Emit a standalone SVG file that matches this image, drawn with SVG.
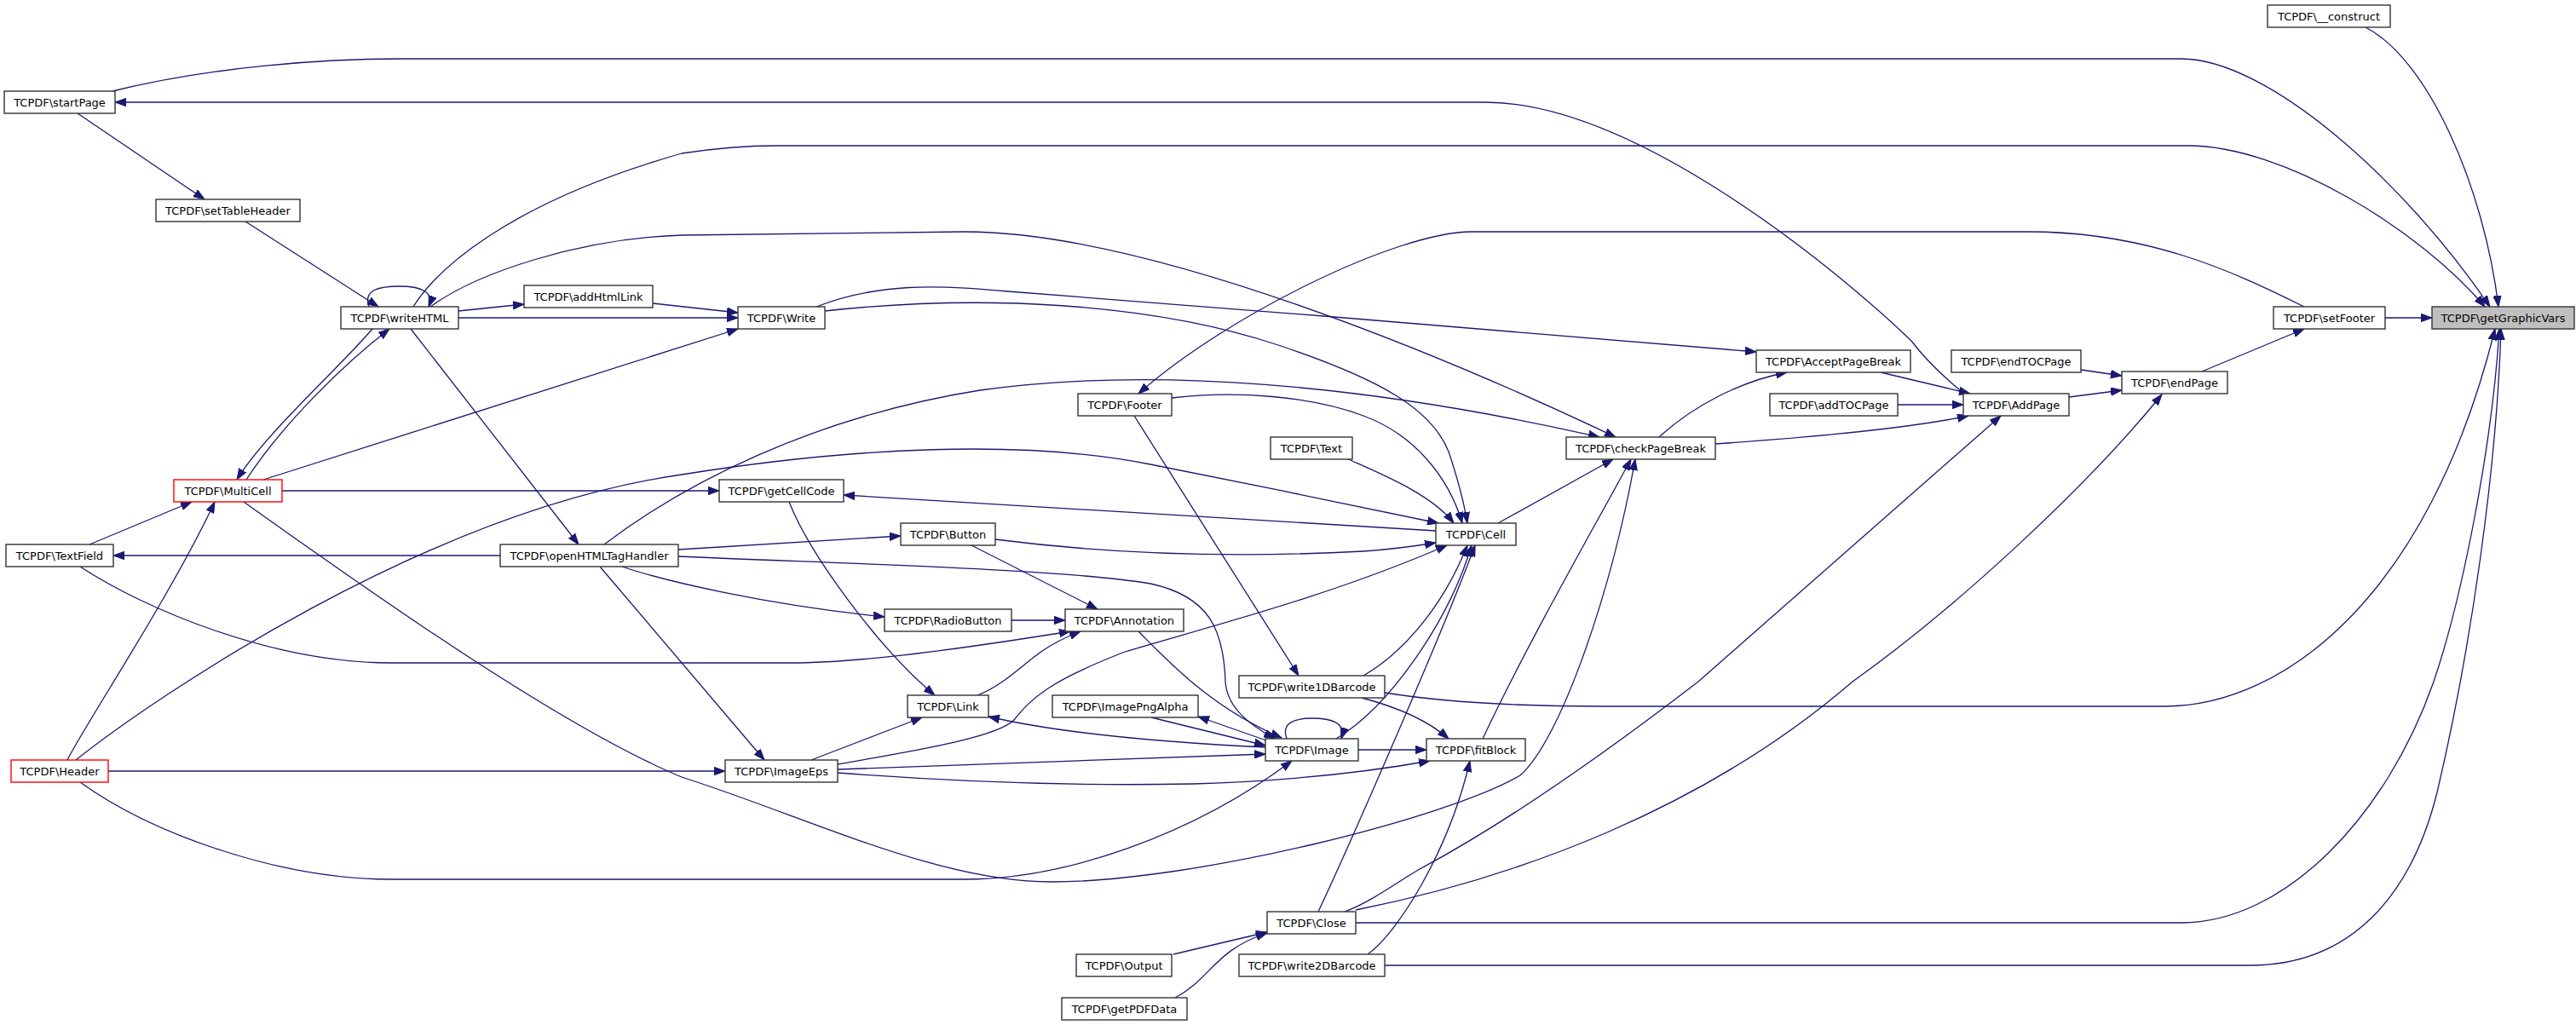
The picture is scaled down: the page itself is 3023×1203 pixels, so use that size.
<svg xmlns="http://www.w3.org/2000/svg" width="3023" height="1203" viewBox="0 0 3023 1203">
<defs>
<marker id="ah" viewBox="0 0 14 10" refX="13" refY="5" markerWidth="14" markerHeight="10" markerUnits="userSpaceOnUse" orient="auto">
<path d="M0,0.3 L13,5 L0,9.7 z" fill="#191970" stroke="#191970" stroke-width="1"/>
</marker>
<style>
.n rect{fill:#ffffff;stroke:#333333;stroke-width:1.4}
.n.red rect{stroke:#ff0000}
.n.root rect{fill:#bfbfbf}
.n text{font-family:"DejaVu Sans","Liberation Sans",sans-serif;font-size:13px;fill:#000000;text-anchor:middle}
.e path{fill:none;stroke:#191970;stroke-width:1.3;marker-end:url(#ah)}
</style>
</defs>
<rect width="3023" height="1203" fill="#ffffff"/>
<g id="edges" class="e">
<path d="M2776,32 C2850,70 2915,220 2932,360"/>
<path d="M132,107 C250,78 380,69 470,69 L2560,69 C2660,69 2820,210 2922,360"/>
<path d="M485,360 C510,320 590,240 800,180 C840,174 870,171 910,171 L2568,171 C2680,171 2840,270 2916,360"/>
<path d="M2799,373 L2854,373"/>
<path d="M2305,462 C2278,440 2258,420 2243,400 C2160,320 1920,120 1743,120 L135,120"/>
<path d="M91,133 L240,234"/>
<path d="M288,260 L444,360"/>
<path d="M433,360 C426,340 445,336 469,336 C493,336 510,342 503,360"/>
<path d="M505,360 C560,320 680,280 800,276 L1132,272 C1350,272 1700,420 1896,513"/>
<path d="M538,365 L615,357"/>
<path d="M538,373 L866,373"/>
<path d="M766,356 L866,367"/>
<path d="M437,386 C400,430 310,510 278,563"/>
<path d="M289,563 C330,500 400,430 457,386"/>
<path d="M482,386 L679,639"/>
<path d="M309,563 L866,386"/>
<path d="M331,576 L844,576"/>
<path d="M105,639 L225,589"/>
<path d="M587,652 L133,652"/>
<path d="M94,665 C170,715 320,778 459,778 L927,778 C1000,778 1100,766 1256,741"/>
<path d="M79,892 C100,850 200,700 252,589"/>
<path d="M89,892 C180,820 500,600 800,557 C1000,525 1200,515 1350,545 C1450,565 1600,595 1688,614"/>
<path d="M127,905 L851,905"/>
<path d="M94,918 C180,980 330,1032 459,1032 L1132,1032 C1250,1032 1400,980 1516,893"/>
<path d="M286,589 C400,670 650,850 800,912 C950,960 1100,1035 1234,1035 C1400,1035 1700,960 1784,910 C1830,870 1890,700 1919,539"/>
<path d="M709,639 C800,570 950,490 1150,458 C1350,430 1600,450 1877,513"/>
<path d="M796,645 L1057,629"/>
<path d="M796,653 C1000,662 1250,668 1350,685 C1420,700 1436,740 1438,800 C1440,830 1465,850 1496,867"/>
<path d="M730,665 C780,682 900,710 1038,724"/>
<path d="M704,665 L897,892"/>
<path d="M958,360 C1030,332 1100,334 1183,342 C1450,362 1850,395 2061,413"/>
<path d="M968,365 C1150,345 1350,355 1500,405 C1620,445 1680,480 1700,530 C1710,560 1718,590 1722,614"/>
<path d="M2704,360 C2620,318 2520,272 2380,272 L1727,272 C1640,272 1440,370 1336,462"/>
<path d="M2584,436 L2704,386"/>
<path d="M2442,434 L2490,441"/>
<path d="M2428,466 L2490,458"/>
<path d="M2207,437 L2312,462"/>
<path d="M2227,475 L2304,475"/>
<path d="M2013,521 C2100,515 2230,505 2310,488"/>
<path d="M1947,513 C1985,478 2040,448 2097,437"/>
<path d="M1591,1068 C1780,1030 2000,950 2174,800 C2300,710 2450,570 2537,463"/>
<path d="M1578,1070 C1610,1058 1640,1035 1666,1020 C1750,975 1850,910 1993,800 L2348,488"/>
<path d="M1591,1083 L2560,1083 C2680,1083 2800,960 2856,800 C2890,700 2925,520 2933,386"/>
<path d="M1625,1133 L2640,1133 C2760,1133 2830,1050 2860,930 C2900,760 2930,550 2935,386"/>
<path d="M1625,813 C1700,825 1800,829 1881,829 L2540,829 C2680,829 2850,700 2928,386"/>
<path d="M1598,819 C1640,830 1675,845 1700,867"/>
<path d="M1594,880 L1674,880"/>
<path d="M983,907 C1150,920 1300,922 1400,920 C1500,917 1600,907 1678,893"/>
<path d="M1605,1120 C1640,1095 1700,1000 1725,893"/>
<path d="M1740,867 C1790,760 1870,620 1914,539"/>
<path d="M1758,614 L1893,539"/>
<path d="M1685,623 L990,581"/>
<path d="M1375,467 C1450,458 1540,465 1600,488 C1660,510 1700,560 1716,614"/>
<path d="M1580,538 C1620,556 1680,580 1706,614"/>
<path d="M1168,633 C1300,650 1450,655 1600,647 C1630,645 1660,641 1685,637"/>
<path d="M983,897 C1080,880 1170,865 1190,845 C1210,820 1230,800 1320,765 C1420,735 1560,700 1698,640"/>
<path d="M1600,793 C1640,770 1690,720 1722,640"/>
<path d="M1568,867 C1630,830 1700,730 1727,640"/>
<path d="M1547,1070 C1580,1000 1690,750 1731,640"/>
<path d="M926,589 C950,650 1030,760 1097,816"/>
<path d="M1140,640 L1288,715"/>
<path d="M1187,728 L1250,728"/>
<path d="M1147,816 C1175,805 1195,785 1215,770 C1230,758 1250,748 1268,741"/>
<path d="M1336,741 C1370,775 1420,830 1504,866"/>
<path d="M1351,842 L1485,875"/>
<path d="M1486,869 L1406,841"/>
<path d="M1485,877 C1380,872 1250,862 1160,841"/>
<path d="M952,892 L1082,842"/>
<path d="M983,903 L1485,885"/>
<path d="M1510,867 C1503,848 1520,843 1540,843 C1562,843 1580,848 1574,867"/>
<path d="M1377,1120 L1487,1094"/>
<path d="M1379,1171 C1420,1150 1425,1115 1487,1095"/>
<path d="M1331,488 L1524,793"/>
</g>
<g id="n_construct" class="n"><rect x="2661" y="6" width="144" height="26"/><text x="2733" y="23.5">TCPDF\__construct</text></g>
<g id="n_startPage" class="n"><rect x="5" y="107" width="130" height="26"/><text x="70" y="124.5">TCPDF\startPage</text></g>
<g id="n_setTableHeader" class="n"><rect x="183" y="234" width="169" height="26"/><text x="267.5" y="251.5">TCPDF\setTableHeader</text></g>
<g id="n_writeHTML" class="n"><rect x="400" y="360" width="138" height="26"/><text x="469" y="377.5">TCPDF\writeHTML</text></g>
<g id="n_addHtmlLink" class="n"><rect x="615" y="335" width="151" height="26"/><text x="690.5" y="352.5">TCPDF\addHtmlLink</text></g>
<g id="n_Write" class="n"><rect x="866" y="360" width="102" height="26"/><text x="917" y="377.5">TCPDF\Write</text></g>
<g id="n_setFooter" class="n"><rect x="2668" y="360" width="131" height="26"/><text x="2733.5" y="377.5">TCPDF\setFooter</text></g>
<g id="n_getGraphicVars" class="n root"><rect x="2854" y="360" width="167" height="26"/><text x="2937.5" y="377.5">TCPDF\getGraphicVars</text></g>
<g id="n_AcceptPageBreak" class="n"><rect x="2061" y="411" width="181" height="26"/><text x="2151.5" y="428.5">TCPDF\AcceptPageBreak</text></g>
<g id="n_endTOCPage" class="n"><rect x="2290" y="411" width="152" height="26"/><text x="2366" y="428.5">TCPDF\endTOCPage</text></g>
<g id="n_endPage" class="n"><rect x="2490" y="436" width="124" height="26"/><text x="2552" y="453.5">TCPDF\endPage</text></g>
<g id="n_Footer" class="n"><rect x="1265" y="462" width="110" height="26"/><text x="1320" y="479.5">TCPDF\Footer</text></g>
<g id="n_addTOCPage" class="n"><rect x="2077" y="462" width="150" height="26"/><text x="2152" y="479.5">TCPDF\addTOCPage</text></g>
<g id="n_AddPage" class="n"><rect x="2304" y="462" width="124" height="26"/><text x="2366" y="479.5">TCPDF\AddPage</text></g>
<g id="n_checkPageBreak" class="n"><rect x="1838" y="513" width="175" height="26"/><text x="1925.5" y="530.5">TCPDF\checkPageBreak</text></g>
<g id="n_Text" class="n"><rect x="1491" y="513" width="96" height="26"/><text x="1539" y="530.5">TCPDF\Text</text></g>
<g id="n_MultiCell" class="n red"><rect x="204" y="563" width="127" height="26"/><text x="267.5" y="580.5">TCPDF\MultiCell</text></g>
<g id="n_getCellCode" class="n"><rect x="844" y="563" width="146" height="26"/><text x="917" y="580.5">TCPDF\getCellCode</text></g>
<g id="n_Cell" class="n"><rect x="1685" y="614" width="94" height="26"/><text x="1732" y="631.5">TCPDF\Cell</text></g>
<g id="n_Button" class="n"><rect x="1057" y="614" width="111" height="26"/><text x="1112.5" y="631.5">TCPDF\Button</text></g>
<g id="n_TextField" class="n"><rect x="7" y="639" width="126" height="26"/><text x="70" y="656.5">TCPDF\TextField</text></g>
<g id="n_openHTMLTagHandler" class="n"><rect x="587" y="639" width="209" height="26"/><text x="691.5" y="656.5">TCPDF\openHTMLTagHandler</text></g>
<g id="n_RadioButton" class="n"><rect x="1038" y="715" width="149" height="26"/><text x="1112.5" y="732.5">TCPDF\RadioButton</text></g>
<g id="n_Annotation" class="n"><rect x="1250" y="715" width="139" height="26"/><text x="1319.5" y="732.5">TCPDF\Annotation</text></g>
<g id="n_write1DBarcode" class="n"><rect x="1454" y="793" width="171" height="26"/><text x="1539.5" y="810.5">TCPDF\write1DBarcode</text></g>
<g id="n_Link" class="n"><rect x="1065" y="816" width="95" height="26"/><text x="1112.5" y="833.5">TCPDF\Link</text></g>
<g id="n_ImagePngAlpha" class="n"><rect x="1235" y="816" width="171" height="26"/><text x="1320.5" y="833.5">TCPDF\ImagePngAlpha</text></g>
<g id="n_Image" class="n"><rect x="1485" y="867" width="109" height="26"/><text x="1539.5" y="884.5">TCPDF\Image</text></g>
<g id="n_fitBlock" class="n"><rect x="1674" y="867" width="116" height="26"/><text x="1732" y="884.5">TCPDF\fitBlock</text></g>
<g id="n_Header" class="n red"><rect x="13" y="892" width="114" height="26"/><text x="70" y="909.5">TCPDF\Header</text></g>
<g id="n_ImageEps" class="n"><rect x="851" y="892" width="132" height="26"/><text x="917" y="909.5">TCPDF\ImageEps</text></g>
<g id="n_Close" class="n"><rect x="1487" y="1070" width="104" height="26"/><text x="1539" y="1087.5">TCPDF\Close</text></g>
<g id="n_Output" class="n"><rect x="1263" y="1120" width="112" height="26"/><text x="1319" y="1137.5">TCPDF\Output</text></g>
<g id="n_write2DBarcode" class="n"><rect x="1454" y="1120" width="171" height="26"/><text x="1539.5" y="1137.5">TCPDF\write2DBarcode</text></g>
<g id="n_getPDFData" class="n"><rect x="1246" y="1171" width="147" height="26"/><text x="1319.5" y="1188.5">TCPDF\getPDFData</text></g>
</svg>
